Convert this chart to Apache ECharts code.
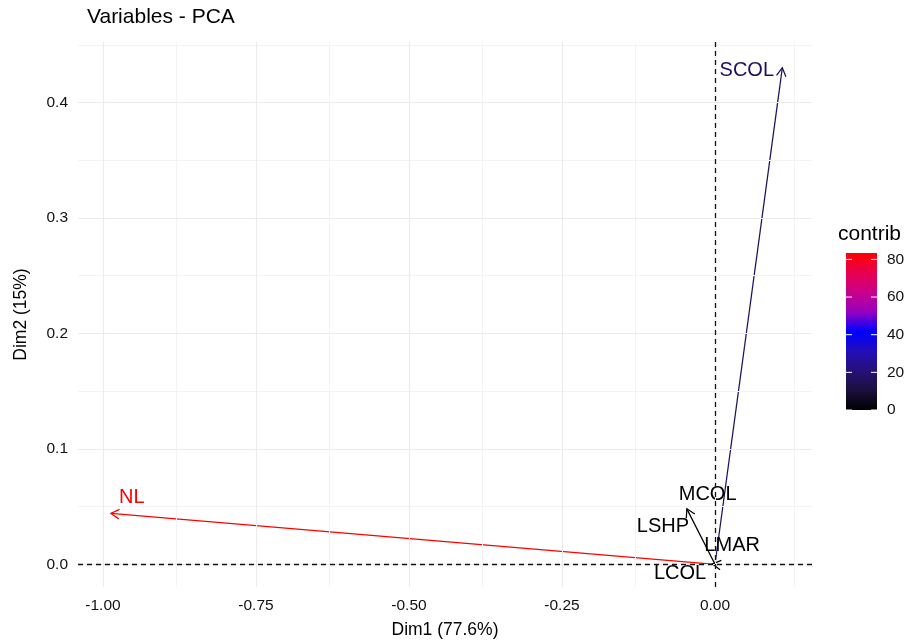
<!DOCTYPE html>
<html>
<head>
<meta charset="UTF-8">
<title>Variables - PCA</title>
<script src="https://cdn.jsdelivr.net/npm/echarts@6/dist/echarts.min.js"></script>
<style>
* { margin: 0; padding: 0; }
#main { width: 919px; height: 644px; background: #fff; }
</style>
</head>
<body>
<div id="main"></div>
<script>
// variable coordinates on Dim1 / Dim2 and their contributions
var varNames = ['NL', 'SCOL', 'MCOL', 'LSHP', 'LMAR', 'LCOL'];
var dim1 = [-0.987, 0.110, -0.046, 0.0006, -0.004, 0.0008];
var dim2 = [0.044, 0.430, 0.048, 0.0009, 0.0003, -0.0005];
var contrib = [83.4, 16.0, 0.3, 0.1, 0.1, 0.1];
// where the (repelled) labels sit, in data units
var labelDim1 = [-0.953, 0.052, -0.012, -0.085, 0.028, -0.057];
var labelDim2 = [0.0575, 0.4277, 0.0601, 0.0326, 0.0163, -0.0077];

var xTicks = [-1, -0.75, -0.5, -0.25, 0];
var yTicks = [0, 0.1, 0.2, 0.3, 0.4];
var xMinor = [-0.875, -0.625, -0.375, -0.125, 0.125];
var yMinor = [0.05, 0.15, 0.25, 0.35, 0.45];
var legendTicks = [0, 20, 40, 60, 80];
var contribMax = 83.4;
var contribColors = ['#000000', '#1b0f3c', '#251178', '#230eb9', '#0000ff',
                     '#9700c0', '#c90089', '#e8004f', '#ff0000'];

var FONT = '"Liberation Sans", Arial, sans-serif';

var arrowData = varNames.map(function (n, i) {
  return [dim1[i], dim2[i], contrib[i], i];
});

function renderArrow(params, api) {
  var i = api.value(3);
  var o = api.coord([0, 0]);
  var p = api.coord([api.value(0), api.value(1)]);
  var c = api.visual('color');
  var kids = [{
    type: 'line',
    shape: { x1: o[0], y1: o[1], x2: p[0], y2: p[1] },
    style: { stroke: c, lineWidth: 1.25 }
  }];
  var dx = p[0] - o[0], dy = p[1] - o[1];
  if (Math.sqrt(dx * dx + dy * dy) > 2) {
    var a = Math.atan2(dy, dx), h = 9.5, w = Math.PI / 6;
    kids.push({
      type: 'polyline',
      shape: { points: [
        [p[0] - h * Math.cos(a - w), p[1] - h * Math.sin(a - w)],
        [p[0], p[1]],
        [p[0] - h * Math.cos(a + w), p[1] - h * Math.sin(a + w)]
      ] },
      style: { stroke: c, fill: 'none', lineWidth: 1.25 }
    });
  }
  var l = api.coord([labelDim1[i], labelDim2[i]]);
  kids.push({
    type: 'text', x: l[0], y: l[1],
    style: { text: varNames[i], fill: c, font: '20px ' + FONT, align: 'center', verticalAlign: 'middle' }
  });
  return { type: 'group', children: kids };
}

// colour bar legend
var barX = 846, barW = 31, barBottom = 410, barTop = 253;
var barH = barBottom - barTop;
var legendEls = [{
  type: 'text', left: 838, top: 224,
  style: { text: 'contrib', font: '21px ' + FONT, fill: '#000' }
}, {
  type: 'rect', shape: { x: barX, y: barTop, width: barW, height: barH },
  style: { fill: new echarts.graphic.LinearGradient(0, 1, 0, 0,
    contribColors.map(function (c, k) { return { offset: k / (contribColors.length - 1), color: c }; })) }
}];
legendTicks.forEach(function (v) {
  var y = barBottom - v / contribMax * barH;
  legendEls.push({ type: 'line', shape: { x1: barX, y1: y, x2: barX + 6, y2: y }, style: { stroke: '#fff', lineWidth: 1 } });
  legendEls.push({ type: 'line', shape: { x1: barX + barW - 6, y1: y, x2: barX + barW, y2: y }, style: { stroke: '#fff', lineWidth: 1 } });
  legendEls.push({ type: 'text', x: 887, y: y, style: { text: String(v), font: '15.5px ' + FONT, fill: '#111', verticalAlign: 'middle' } });
});

var chart = echarts.init(document.getElementById('main'));
chart.setOption({
  animation: false,
  backgroundColor: '#fff',
  textStyle: { fontFamily: FONT },
  title: {
    text: 'Variables - PCA', left: 87, top: 7, padding: 0,
    textStyle: { fontSize: 21, fontWeight: 'normal', color: '#000', fontFamily: FONT }
  },
  grid: { left: 78, right: 107, top: 42, bottom: 52 },
  xAxis: {
    type: 'value', min: -1.0408, max: 0.1585,
    name: 'Dim1 (77.6%)', nameLocation: 'middle', nameGap: 34,
    nameTextStyle: { fontSize: 17.5, color: '#000' },
    axisLine: { show: false },
    splitLine: { show: false },
    axisTick: { show: true, customValues: xTicks, length: 4, lineStyle: { color: '#333' } },
    axisLabel: { customValues: xTicks, fontSize: 15.5, color: '#111', margin: 11,
      formatter: function (v) { return v.toFixed(2); } }
  },
  yAxis: {
    type: 'value', min: -0.0197, max: 0.4524,
    name: 'Dim2 (15%)', nameLocation: 'middle', nameGap: 48,
    nameTextStyle: { fontSize: 17.5, color: '#000' },
    axisLine: { show: false },
    splitLine: { show: false },
    axisTick: { show: true, customValues: yTicks, length: 4, lineStyle: { color: '#333' } },
    axisLabel: { customValues: yTicks, fontSize: 15.5, color: '#111', margin: 10,
      formatter: function (v) { return v.toFixed(1); } }
  },
  visualMap: {
    show: false, type: 'continuous', seriesIndex: 2, dimension: 2,
    min: 0, max: contribMax, inRange: { color: contribColors }
  },
  graphic: legendEls,
  series: [{
    type: 'line', data: [], silent: true, z: 1,
    markLine: {
      silent: true, symbol: 'none', label: { show: false }, animation: false,
      data: xMinor.map(function (v) { return { xAxis: v, lineStyle: { color: '#f3f3f3', width: 1, type: 'solid' } }; })
        .concat(yMinor.map(function (v) { return { yAxis: v, lineStyle: { color: '#f3f3f3', width: 1, type: 'solid' } }; }))
        .concat(xTicks.map(function (v) { return { xAxis: v, lineStyle: { color: '#ebebeb', width: 1.1, type: 'solid' } }; }))
        .concat(yTicks.map(function (v) { return { yAxis: v, lineStyle: { color: '#ebebeb', width: 1.1, type: 'solid' } }; }))
    }
  }, {
    type: 'line', data: [], silent: true, z: 2,
    markLine: {
      silent: true, symbol: 'none', label: { show: false }, animation: false,
      lineStyle: { color: '#111', width: 1.3, type: [5, 4] },
      data: [{ xAxis: 0 }, { yAxis: 0 }]
    }
  }, {
    type: 'custom', z: 3, silent: true,
    encode: { x: 0, y: 1 },
    renderItem: renderArrow,
    data: arrowData
  }]
});
</script>
</body>
</html>
